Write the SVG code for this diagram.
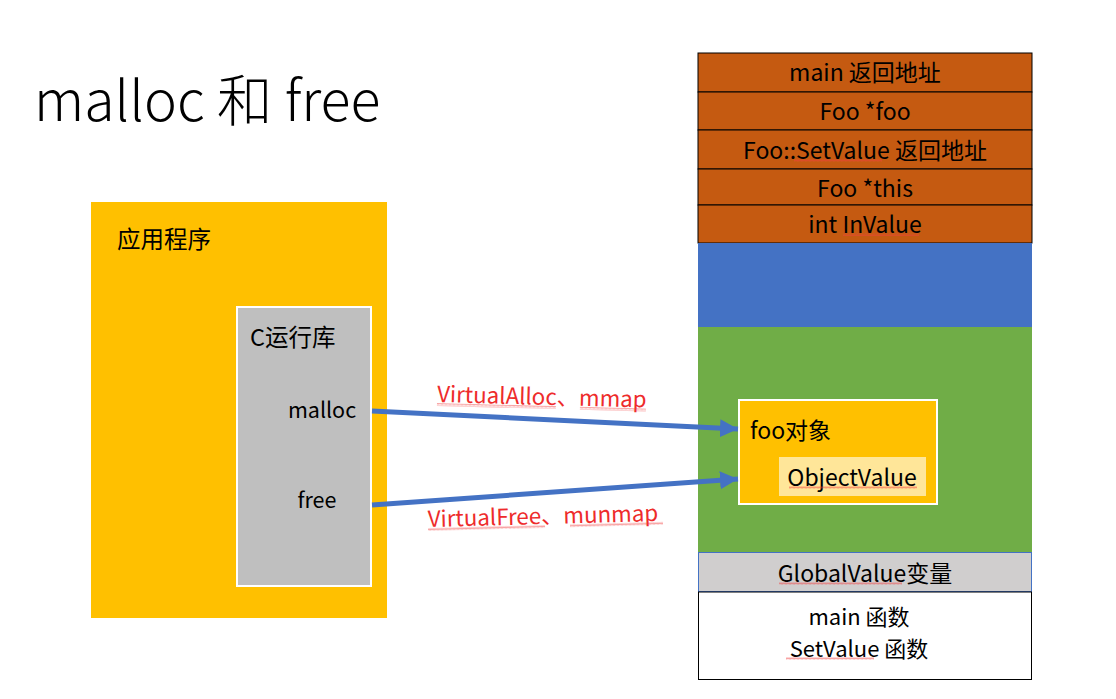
<svg xmlns="http://www.w3.org/2000/svg" width="1116" height="699" viewBox="0 0 1116 699">
<defs>
<style>
text{font-family:"Noto Sans CJK SC","Microsoft YaHei",sans-serif;fill:#000}
.t{font-size:23px}
.m{font-size:21.5px}
.c{text-anchor:middle}
.red{fill:#EE2B2B;font-size:22.3px}
.row{fill:#C55A11;stroke:#000;stroke-width:1}
.arr{stroke:#4472C4;stroke-width:5;fill:none}
.sq{fill:url(#wave)}
</style>
<pattern id="wave" width="4" height="3" patternUnits="userSpaceOnUse">
<path d="M0,2.5 L1,0.5 L2,2.5 L3,0.5 L4,2.5" stroke="#F04040" stroke-width="0.6" stroke-opacity="0.8" fill="none"/>
</pattern>
<marker id="ah" markerUnits="userSpaceOnUse" markerWidth="20" markerHeight="18" refX="18" refY="9" orient="auto">
<path d="M0,0 L18,9 L0,18 Z" fill="#4472C4"/>
</marker>
</defs>
<rect width="1116" height="699" fill="#fff"/>
<text id="title" x="34" y="121" style="font-size:55.5px;font-weight:300">malloc 和 free</text>

<g id="app">
<rect x="91" y="202" width="296" height="416" fill="#FFC000"/>
<text class="t" x="117" y="248" style="font-size:23.5px">应用程序</text>
</g>
<g id="crt">
<rect x="237" y="307" width="134" height="279" fill="#BFBFBF" stroke="#fff" stroke-width="2"/>
<text class="t" x="250" y="346" style="font-size:23.5px">C运行库</text>
<text class="m c" x="322" y="418">malloc</text>
<text class="m c" x="317" y="508">free</text>
</g>

<g id="stack">
<rect class="row" x="698" y="53" width="334" height="39"/>
<rect class="row" x="698" y="92" width="334" height="38"/>
<rect class="row" x="698" y="130" width="334" height="39"/>
<rect class="row" x="698" y="169" width="334" height="36"/>
<rect class="row" x="698" y="205" width="334" height="38"/>
<text class="t c" x="865" y="81">main 返回地址</text>
<text class="t c" x="865" y="120">Foo *foo</text>
<text class="t c" x="865" y="159">Foo::SetValue 返回地址</text>
<text class="t c" x="865" y="197">Foo *this</text>
<text class="t c" x="865" y="233">int InValue</text>
<rect class="sq" x="794" y="159" width="88" height="3"/>
<rect class="sq" x="843" y="233" width="76" height="3"/>
</g>
<g id="blank">
<rect x="698" y="243" width="334" height="84" fill="#4472C4"/>
</g>
<g id="heap">
<rect x="698" y="327" width="334" height="225" fill="#70AD47"/>
</g>
<g id="foo">
<rect x="739" y="400" width="198" height="104" fill="#FFC000" stroke="#fff" stroke-width="2"/>
<text class="t" x="750" y="439">foo对象</text>
</g>
<g id="objval">
<rect x="779" y="457" width="147" height="39" fill="#FFE699"/>
<text class="t c" x="852" y="486">ObjectValue</text>
<rect class="sq" x="789" y="486" width="128" height="3"/>
</g>
<g id="global">
<rect x="698.5" y="552.5" width="333" height="39" fill="#D0CECE" stroke="#4472C4" stroke-width="1"/>
<text class="t c" x="865" y="582">GlobalValue变量</text>
<rect class="sq" x="779" y="582" width="123" height="3"/>
</g>
<g id="code">
<rect x="698.5" y="592" width="333" height="87.5" fill="#fff" stroke="#000" stroke-width="1"/>
<text class="c" x="859" y="625" style="font-size:22px">main 函数</text>
<text class="c" x="859" y="657" style="font-size:22px">SetValue 函数</text>
<rect class="sq" x="786" y="657" width="88" height="3"/>
</g>

<g id="connectors">
<line class="arr" x1="372" y1="411" x2="738" y2="429" marker-end="url(#ah)"/>
<line class="arr" x1="372" y1="505" x2="738" y2="479" marker-end="url(#ah)"/>
<g transform="rotate(1.5 437 402)">
<text class="red" x="437" y="402">VirtualAlloc、mmap</text>
<rect class="sq" x="437" y="403" width="119" height="3"/>
<rect class="sq" x="580" y="403" width="66" height="3"/>
</g>
<g transform="rotate(-1.5 428 527)">
<text class="red" x="428" y="527">VirtualFree、munmap</text>
<rect class="sq" x="428" y="528" width="117" height="3"/>
<rect class="sq" x="570" y="528" width="93" height="3"/>
</g>
</g>
</svg>
